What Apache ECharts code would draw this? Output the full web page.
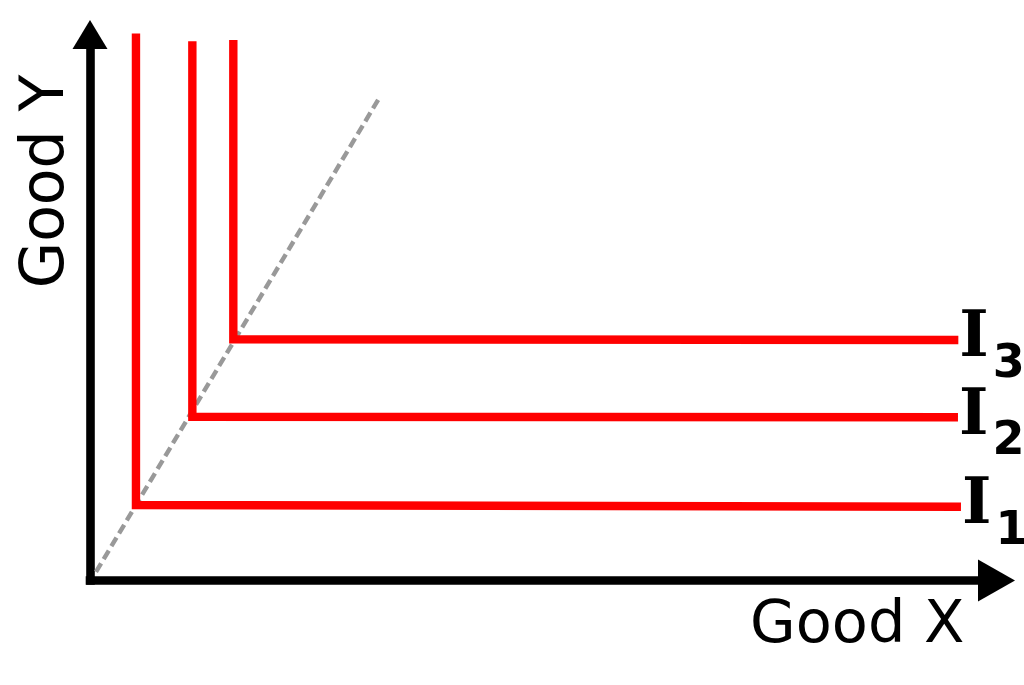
<!DOCTYPE html>
<html>
<head>
<meta charset="utf-8">
<script src="https://cdn.jsdelivr.net/npm/echarts@6/dist/echarts.min.js"></script>
<style>
html,body{margin:0;padding:0;background:#fff;}
#chart{width:1024px;height:685px;}
</style>
</head>
<body>
<div id="chart"></div>
<script>
// Indifference curves for perfect complements (L-shaped), values in axis units (0-100)
const curveNames = ['1', '2', '3'];
const curveI1 = [[5.07, 100.2], [5.07, 13.83], [96.08, 13.52]];
const curveI2 = [[11.29, 98.75], [11.29, 30.0], [95.75, 29.89]];
const curveI3 = [[15.81, 98.99], [15.81, 44.18], [95.79, 44.05]];
const rayLine = [[0.66, 1.56], [31.99, 88.6]];
const xName = 'Good X';
const yName = 'Good Y';

const chart = echarts.init(document.getElementById('chart'), null, {renderer: 'canvas'});

function curveSeries(data, sub) {
  return {
    type: 'line',
    data: data,
    symbol: 'none',
    clip: false,
    z: 3,
    lineStyle: {color: '#ff0000', width: 8.4, cap: 'butt', join: 'miter'},
    endLabel: {
      show: true,
      distance: 1,
      formatter: '{i|I}{n|' + sub + '}',
      rich: {
        i: {fontFamily: 'DejaVu Serif', fontWeight: 'bold', fontSize: 63, color: '#000', padding: [0, 0, 0, 0]},
        n: {fontFamily: 'DejaVu Sans', fontWeight: 'bold', fontSize: 46, color: '#000', padding: [50, 0, 0, 4]}
      }
    }
  };
}

const option = {
  animation: false,
  backgroundColor: '#ffffff',
  grid: {left: 90, right: 27.5, top: 34.5, bottom: 104.5, containLabel: false, outerBoundsMode: 'none'},
  xAxis: {
    type: 'value', min: 0, max: 100,
    axisLine: {show: true, symbol: ['none', 'triangle'], symbolSize: [42, 37],
      lineStyle: {color: '#000', width: 8.6, cap: 'square'}},
    axisTick: {show: false}, axisLabel: {show: false}, splitLine: {show: false},
    name: xName, nameLocation: 'end', nameGap: -32,
    nameTextStyle: {fontFamily: 'DejaVu Sans', fontSize: 59, color: '#000', align: 'right', verticalAlign: 'top', padding: [17, 0, 0, 0]}
  },
  yAxis: {
    type: 'value', min: 0, max: 100,
    axisLine: {show: true, symbol: ['none', 'triangle'], symbolSize: [35, 29],
      lineStyle: {color: '#000', width: 8.6, cap: 'square'}},
    axisTick: {show: false}, axisLabel: {show: false}, splitLine: {show: false},
    name: yName, nameLocation: 'middle', nameGap: 13,
    nameTextStyle: {fontFamily: 'DejaVu Sans', fontSize: 60, color: '#000', padding: [0, 0, 0, 252]}
  },
  series: [
    {
      type: 'line', data: rayLine, symbol: 'none', clip: false, z: 2,
      lineStyle: {color: '#999999', width: 4.4, type: [10, 5]}
    },
    curveSeries(curveI1, curveNames[0]),
    curveSeries(curveI2, curveNames[1]),
    curveSeries(curveI3, curveNames[2])
  ]
};
chart.setOption(option);
</script>
</body>
</html>
